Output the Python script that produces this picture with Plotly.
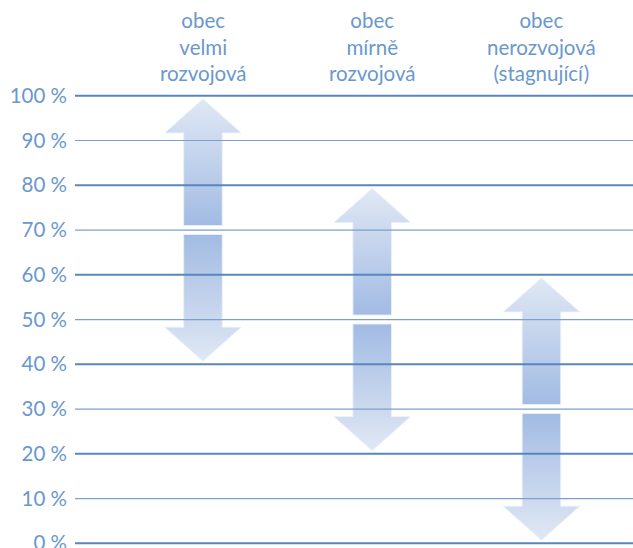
import plotly.graph_objects as go

# ---- data ----
categories = ["obec<br>velmi<br>rozvojová", "obec<br>mírně<br>rozvojová", "obec<br>nerozvojová<br>(stagnující)"]
top_values = [100, 80, 60]
mid_values = [70, 50, 30]
bottom_values = [40, 20, 0]
tick_values = [0, 10, 20, 30, 40, 50, 60, 70, 80, 90, 100]
tick_labels = [f"{v} %" for v in tick_values]

# ---- styles ----
TEXT = "#6a98cd"
DARK = "#a2bbe3"
LIGHT = "#e0e8f4"
FONT = "Lato, Open Sans, sans-serif"
SHAFT = 0.114
HEAD = 0.226
HEAD_H = 7.6
GAP = 1.0
INSET = 0.7


def arrow(c, y_base, y_tip):
    d = 1 if y_tip > y_base else -1
    yb = y_base + d * GAP
    yt = y_tip - d * INSET
    yh = yt - d * HEAD_H
    xs = [c - SHAFT, c + SHAFT, c + SHAFT, c + HEAD, c, c - HEAD, c - SHAFT, c - SHAFT]
    ys = [yb, yb, yh, yh, yt, yh, yh, yb]
    return xs, ys


fig = go.Figure()
for i in range(len(categories)):
    for tip, scale in ((top_values[i], [[0, DARK], [1, LIGHT]]),
                       (bottom_values[i], [[0, LIGHT], [1, DARK]])):
        xs, ys = arrow(i, mid_values[i], tip)
        fig.add_trace(go.Scatter(
            x=xs, y=ys, mode="lines", fill="toself",
            fillgradient=dict(type="vertical", colorscale=scale),
            line=dict(color="rgba(235,241,250,0.9)", width=1),
            hoverinfo="skip", showlegend=False))

shapes = []
for v in tick_values:
    thick = v % 20 == 0
    shapes.append(dict(type="line", xref="paper", x0=0, x1=1, yref="y", y0=v, y1=v,
                       layer="above",
                       line=dict(color="#5a86bf" if thick else "#7ba0cf", width=2 if thick else 1.2)))

annotations = []
for i, cat in enumerate(categories):
    annotations.append(dict(x=i, y=110.9, xref="x", yref="y", text=cat, showarrow=False,
                            xanchor="center", yanchor="middle", align="center",
                            font=dict(family=FONT, size=20.5, color=TEXT)))

fig.update_layout(
    width=633, height=548,
    margin=dict(l=75, r=0, t=0, b=0),
    paper_bgcolor="white", plot_bgcolor="white",
    shapes=shapes, annotations=annotations,
    xaxis=dict(range=[-0.756, 2.541], showgrid=False, zeroline=False, showticklabels=False,
               fixedrange=True),
    yaxis=dict(range=[-1.05, 121.4], tickvals=tick_values, ticktext=tick_labels,
               showgrid=False, zeroline=False, ticks="", ticklabelstandoff=7,
               ticklabeloverflow="allow",
               tickfont=dict(family=FONT, size=20.5, color=TEXT), automargin=False,
               fixedrange=True),
    showlegend=False,
)

fig.write_html("out.html")
